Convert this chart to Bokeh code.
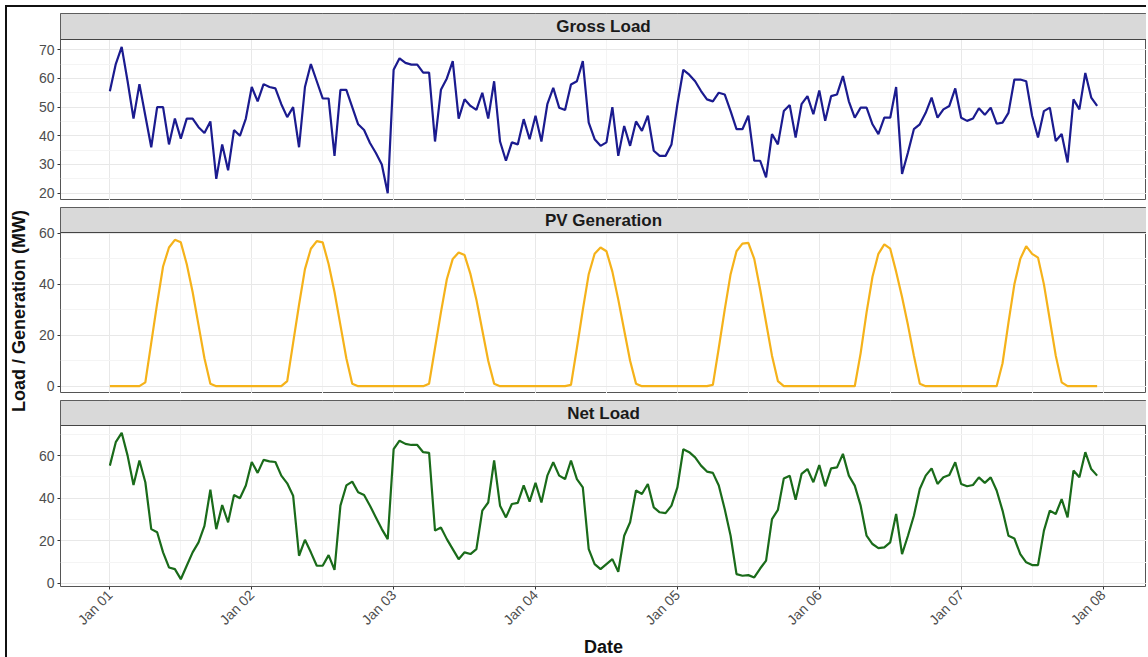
from math import pi

from bokeh.core.properties import value
from bokeh.embed import file_html
from bokeh.layouts import column, row
from bokeh.models import ColumnDataSource, FixedTicker, Range1d
from bokeh.plotting import figure
from bokeh.resources import INLINE

# ---------------------------------------------------------------------------
# Hourly series, 1 Jan 00:00 .. 7 Jan 23:00 (MW)
# ---------------------------------------------------------------------------
gross_load = [
    55.5, 65, 71, 59, 46, 58, 47, 36, 50, 50, 37, 46, 39, 46, 46, 43, 41, 45, 25, 37, 28, 42, 40, 46,
    57, 52, 58, 57, 56.5, 51, 46.5, 50, 36, 57, 65, 59, 53, 53, 33, 56, 56, 50, 44, 42, 37.5, 34, 30, 20,
    63, 67, 65.4, 64.8, 64.8, 62, 62, 38, 56, 60, 66, 46, 52.7, 50.4, 49, 55, 46, 59, 38, 31.3, 37.7, 37, 45.8, 38.8,
    47, 38, 51, 56.7, 49.8, 49, 57.9, 59, 66, 44.6, 38.8, 36.5, 37.7, 50, 33, 43.4, 36.5, 45, 41.7, 47, 34.8, 33, 33, 37,
    51, 63, 61.3, 59, 55.6, 52.7, 52, 55, 54.4, 48.6, 42.3, 42.3, 47, 31.3, 31.3, 25.5, 40.6, 37, 48.6, 50.7, 39.4, 51, 53.8, 47.5,
    55.8, 45.2, 53.8, 54.4, 60.8, 52, 46.3, 49.8, 49.8, 44, 40.6, 46.3, 46.3, 57, 26.7, 34.2, 42.3, 44, 48, 53.3, 46.3, 49.2, 50.4, 56.5,
    46.3, 45.2, 46, 49.6, 47.3, 49.8, 44.2, 44.6, 48, 59.6, 59.6, 59, 47, 39.4, 48.6, 49.8, 38.2, 40.6, 30.7, 52.7, 49.2, 61.9, 53.3, 50.4,
]

pv_generation = [
    0, 0, 0, 0, 0, 0, 1.5, 17, 32.5, 47, 54.5, 57.5, 56.5, 48, 37, 24, 11, 1, 0, 0, 0, 0, 0, 0,
    0, 0, 0, 0, 0, 0, 2, 17, 32, 46, 54, 57, 56.5, 48, 37, 24, 11, 1, 0, 0, 0, 0, 0, 0,
    0, 0, 0, 0, 0, 0, 1, 15, 29, 42, 50, 52.5, 51.5, 44, 34, 22, 10, 1, 0, 0, 0, 0, 0, 0,
    0, 0, 0, 0, 0, 0, 0.5, 15, 30, 44, 52, 54.5, 53, 45, 34, 22, 10, 1, 0, 0, 0, 0, 0, 0,
    0, 0, 0, 0, 0, 0, 0.5, 15, 30, 44, 53, 56, 56.3, 50, 38, 25, 12, 2, 0, 0, 0, 0, 0, 0,
    0, 0, 0, 0, 0, 0, 0, 13, 29, 43, 52, 55.7, 54, 45, 35, 24, 12, 1, 0, 0, 0, 0, 0, 0,
    0, 0, 0, 0, 0, 0, 0, 9, 25, 40, 50, 55, 52, 50.5, 40, 26, 12, 1.5, 0, 0, 0, 0, 0, 0,
]

net_load = [
    55.3, 66.3, 70.7, 60, 46.2, 57.7, 47.5, 25.5, 24, 14.6, 7.5, 6.7, 2, 8.3, 14.6, 19.3, 27, 44, 25.5, 36.8, 28.7, 41.5, 40, 46,
    57, 51.9, 58, 57.3, 57, 50.6, 47, 41.2, 13, 20.5, 14.6, 8.3, 8.3, 13.3, 6.4, 36.5, 46, 47.8, 42.8, 41.5, 36.5, 31, 25.5, 20.8,
    63, 67, 65.5, 65, 65, 61.6, 61.3, 24.8, 26.3, 20.8, 16.1, 11.4, 14.6, 13.8, 16.1, 34.2, 38, 57.7, 36.5, 31, 37.3, 37.8, 46, 38.4,
    47.2, 38, 50.6, 56.9, 50.6, 49, 57.7, 49, 45.1, 16.1, 9.1, 6.7, 9.1, 11.4, 5.5, 22.4, 28.7, 43.6, 42, 46.7, 35.7, 33.4, 33, 36.5,
    45.1, 63, 61.6, 59.2, 55.3, 52.5, 51.9, 46, 34.9, 22.4, 4.4, 3.6, 3.9, 2.8, 7, 10.7, 30.2, 34.5, 49.3, 50.6, 39.3, 51.4, 53.7, 47.5,
    55.6, 45.6, 54, 54.5, 60.8, 50.6, 45.9, 36.5, 22.4, 18.5, 16.6, 16.9, 19.3, 32.6, 13.8, 22.4, 31.8, 44.3, 50.6, 54, 46.7, 49.8, 50.9, 56.9,
    46.7, 45.6, 46.2, 49.8, 47.2, 49.8, 43.6, 34.2, 22.4, 21.1, 13.8, 9.9, 8.6, 8.6, 24.8, 34.2, 32.6, 39.6, 31, 53, 49.8, 61.6, 53.7, 50.6,
]

day_labels = ["Jan 01", "Jan 02", "Jan 03", "Jan 04", "Jan 05", "Jan 06", "Jan 07", "Jan 08"]

facet_titles = ["Gross Load", "PV Generation", "Net Load"]
gross_ticks = [20, 30, 40, 50, 60, 70]
gross_minor = [25, 35, 45, 55, 65]
pv_ticks = [0, 20, 40, 60]
pv_minor = [10, 30, 50]
net_ticks = [0, 20, 40, 60]
net_minor = [10, 30, 50, 70]

# ---------------------------------------------------------------------------
source = ColumnDataSource(data=dict(
    hour=list(range(len(gross_load))),
    gross=gross_load,
    pv=pv_generation,
    net=net_load,
))

day_ticks = [24 * i for i in range(len(day_labels))]
half_days = [24 * i + 12 for i in range(len(day_labels) - 1)]
label_overrides = {t: lab for t, lab in zip(day_ticks, day_labels)}

n_hours = len(gross_load) - 1
x_lo, x_hi = -0.05 * n_hours, n_hours * 1.05
x_range = Range1d(x_lo, x_hi)

FONT = "Liberation Sans"
FRAME_W = 1086
PANEL_H = 161
LEFT = 28
GAP = 7
BOTTOM = 69


def make_facet(col, title, color, ticks, minor, strip_h, top, bottom):
    """One facet: grey title strip on top of a line panel, in one frame."""
    vals = source.data[col]
    lo, hi = min(vals), max(vals)
    pad = 0.05 * (hi - lo)
    y0, y1 = lo - pad, hi + pad
    strip_units = (y1 - y0) * strip_h / PANEL_H
    y_top = y1 + strip_units

    p = figure(frame_width=FRAME_W, frame_height=PANEL_H + strip_h,
               min_border_left=LEFT, min_border_right=0,
               min_border_top=top, min_border_bottom=BOTTOM if bottom else 0,
               x_range=x_range, y_range=Range1d(y0, y_top),
               x_axis_location="below" if bottom else None,
               toolbar_location=None, output_backend="svg",
               background_fill_color="white", border_fill_color="white",
               outline_line_color="#555555", outline_line_width=1)

    p.xgrid.ticker = FixedTicker(ticks=day_ticks, minor_ticks=half_days)
    p.ygrid.ticker = FixedTicker(ticks=ticks, minor_ticks=minor)
    for g in p.grid:
        g.grid_line_color = "#e8e8e8"
        g.grid_line_width = 1
        g.minor_grid_line_color = "#f4f4f4"
        g.minor_grid_line_width = 1

    p.line("hour", col, source=source, line_color=color, line_width=2.2)

    # facet strip
    p.quad(left=[x_lo], right=[x_hi], bottom=[y1], top=[y_top],
           fill_color="#d9d9d9", line_color="#444444", line_width=1)
    p.text(x=[(x_lo + x_hi) / 2], y=[(y1 + y_top) / 2], text=[title],
           text_align="center", text_baseline="middle", text_font=value(FONT),
           text_font_style="bold", text_font_size="17px", text_color="#1a1a1a")

    ya = p.yaxis[0]
    ya.ticker = FixedTicker(ticks=ticks)
    ya.axis_line_color = None
    ya.major_tick_line_color = "#333333"
    ya.major_tick_in = 0
    ya.major_tick_out = 3
    ya.minor_tick_line_color = None
    ya.major_label_text_font = FONT
    ya.major_label_text_font_size = "14px"
    ya.major_label_text_color = "#4d4d4d"
    ya.major_label_standoff = 3

    if bottom:
        xa = p.xaxis[0]
        xa.ticker = FixedTicker(ticks=day_ticks)
        xa.major_label_overrides = label_overrides
        xa.major_label_orientation = pi / 4
        xa.axis_line_color = None
        xa.major_tick_line_color = "#333333"
        xa.major_tick_in = 0
        xa.major_tick_out = 3
        xa.minor_tick_line_color = None
        xa.major_label_text_font = FONT
        xa.major_label_text_font_size = "14px"
        xa.major_label_text_color = "#4d4d4d"
        xa.major_label_standoff = 3
        xa.axis_label = "Date"
        xa.axis_label_text_font = FONT
        xa.axis_label_text_font_style = "bold"
        xa.axis_label_text_font_size = "18px"
        xa.axis_label_text_color = "#111111"
        xa.axis_label_standoff = 0
    return p


gross_fig = make_facet("gross", facet_titles[0], "#1b1b8f", gross_ticks, gross_minor, 26, 6, False)
pv_fig = make_facet("pv", facet_titles[1], "#f5b21a", pv_ticks, pv_minor, 25, GAP, False)
net_fig = make_facet("net", facet_titles[2], "#1a6b1a", net_ticks, net_minor, 25, GAP, True)

panels = column(gross_fig, pv_fig, net_fig, spacing=0)

# shared y-axis title, set in a narrow column to the left of the panels
total_h = 6 + 26 + PANEL_H + GAP + 25 + PANEL_H + GAP + 25 + PANEL_H + BOTTOM
ylab = figure(frame_width=25, frame_height=total_h, min_border=0,
              x_range=Range1d(0, 1), y_range=Range1d(0, total_h),
              x_axis_location=None, y_axis_location=None,
              toolbar_location=None, output_backend="svg",
              outline_line_color=None, border_fill_color="white",
              background_fill_color="white")
ylab.xgrid.visible = False
ylab.ygrid.visible = False
ylab.text(x=[0.44], y=[total_h - 303.5], text=["Load / Generation (MW)"],
          angle=pi / 2, text_align="center", text_baseline="middle",
          text_font=value(FONT), text_font_style="bold",
          text_font_size="18px", text_color="#111111")

layout = row(ylab, panels, spacing=0, margin=(5, 0, 0, 5),
             styles={"border-top": "2px solid #111111",
                     "border-left": "2px solid #111111"})

with open("out.html", "w") as f:
    f.write(file_html(layout, INLINE, "Load / Generation"))
